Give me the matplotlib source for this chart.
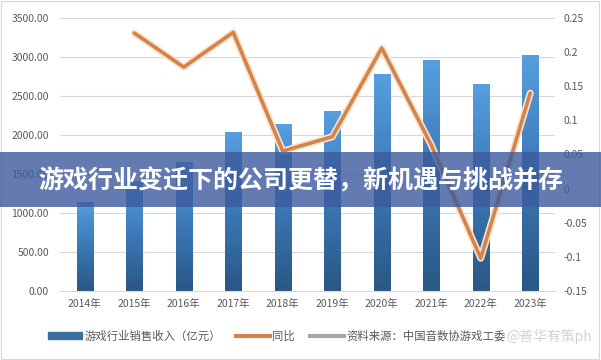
import matplotlib.pyplot as plt
import numpy as np
from matplotlib.colors import LinearSegmentedColormap
from matplotlib.lines import Line2D
from matplotlib.patches import Rectangle
from matplotlib.ticker import FuncFormatter

plt.rcParams['font.family'] = ['Noto Sans CJK SC', 'DejaVu Sans']

years = ["2014年", "2015年", "2016年", "2017年", "2018年",
         "2019年", "2020年", "2021年", "2022年", "2023年"]
revenue = [1144.8, 1407.0, 1655.7, 2036.1, 2144.4,
           2308.8, 2786.9, 2965.1, 2658.8, 3029.6]
growth = [None, 0.228, 0.178, 0.229, 0.055,
          0.076, 0.206, 0.064, -0.102, 0.140]

title = "游戏行业变迁下的公司更替，新机遇与挑战并存"

fig = plt.figure(figsize=(6.01, 3.60), dpi=100)
ax = fig.add_axes([60 / 601, 1 - 291 / 360, 495 / 601, 273 / 360])
ax2 = ax.twinx()

x = np.arange(len(years))
bars = ax.bar(x, revenue, width=0.33, color="none", zorder=2)

# vertical gradient inside each bar
cmap = LinearSegmentedColormap.from_list("g", ["#2a5785", "#3b78b5", "#579fdf"])
grad = np.linspace(0, 1, 256).reshape(-1, 1)
for b in bars:
    x0, w, h = b.get_x(), b.get_width(), b.get_height()
    im = ax.imshow(grad, cmap=cmap, origin="lower", aspect="auto",
                   extent=[x0, x0 + w, 0, h], zorder=2)
    im.set_clip_path(b)

ax.set_xlim(-0.5, len(years) - 0.5)
ax.set_ylim(0, 3500)
ax.set_yticks(np.arange(0, 3501, 500))
ax.yaxis.set_major_formatter(FuncFormatter(lambda v, p: f"{v:.2f}"))
ax.set_xticks(x)
ax.set_xticklabels(years)
ax.grid(axis="y", color="#d9d9d9", linewidth=0.8, zorder=0)
ax.set_axisbelow(True)

gx = [i for i, g in zip(x, growth) if g is not None]
gy = [g for g in growth if g is not None]
ax2.plot(gx, gy, color="#fbe3cc", linewidth=5, solid_capstyle="round", zorder=3)
ax2.plot(gx, gy, color="#d4834a", linewidth=2.6, solid_capstyle="round", zorder=4)
ax2.set_ylim(-0.15, 0.25)
ax2.set_yticks(np.arange(-0.15, 0.251, 0.05))
ax2.yaxis.set_major_formatter(FuncFormatter(lambda v, p: f"{round(v, 2):g}"))

for a in (ax, ax2):
    for s in a.spines.values():
        s.set_visible(False)
    a.tick_params(length=0, labelsize=7.5, labelcolor="#595959")
ax.spines["bottom"].set_visible(True)
ax.spines["bottom"].set_color("#d9d9d9")
ax.tick_params(axis="x", pad=6)
ax.tick_params(axis="y", pad=8)
ax2.tick_params(axis="y", pad=6)

# legend
handles = [
    Rectangle((0, 0), 1, 1, color="#3b6f9e"),
    Line2D([], [], color="#d4834a", linewidth=3),
    Line2D([], [], color="#a6a6a6", linewidth=3),
]
labels = ["游戏行业销售收入（亿元）", "同比", "资料来源：中国音数协游戏工委"]
fig.legend(handles, labels, loc="center left", bbox_to_anchor=(38 / 601, 1 - 336 / 360),
           ncol=3, frameon=False, fontsize=8.2, labelcolor="#595959",
           handlelength=3.0, handleheight=0.5, columnspacing=1.3, handletextpad=0.2)

# border
fig.add_artist(Rectangle((0.002, 0.003), 0.995, 0.993, transform=fig.transFigure,
                         fill=False, edgecolor="#d9d9d9", linewidth=0.8))

# title banner
fig.add_artist(Rectangle((0, 1 - 207 / 360), 1, 55 / 360, transform=fig.transFigure,
                         facecolor="#3c5a9c", alpha=0.8, edgecolor="none", zorder=10))
fig.text(0.5, 1 - 181 / 360, title, ha="center", va="center", color="white",
         fontsize=18, fontweight="bold", zorder=11)

# watermark
fig.text(0.985, 1 - 336 / 360, "@普华有策ph", ha="right", va="center",
         color="#c8c8c8", fontsize=10, alpha=0.8, zorder=11)

fig.savefig("out.png", dpi=100)
